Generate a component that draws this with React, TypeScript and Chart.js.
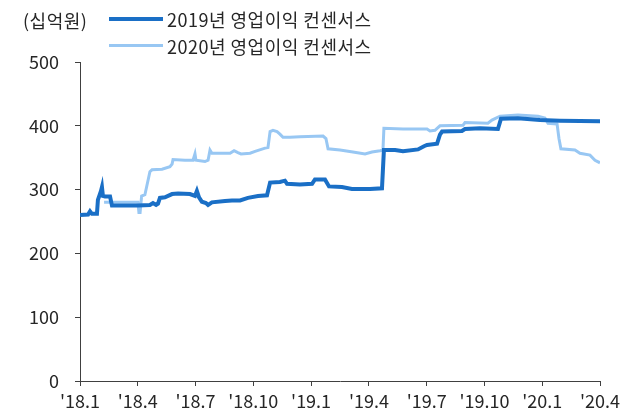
import React, { useEffect, useRef } from "react";
import { Chart, registerables } from "chart.js";

Chart.register(...registerables);

const FONT = "'Noto Sans CJK KR', 'Noto Sans', sans-serif";
const TEXT_COLOR = "#262626";
const AXIS_COLOR = "#404040";
const DARK = "#1A6FC6";
const LIGHT = "#98C7F3";

const unitLabel = "(십억원)";
const seriesNames = ["2019년 영업이익 컨센서스", "2020년 영업이익 컨센서스"];
const xTickLabels = ["'18.1", "'18.4", "'18.7", "'18.10", "'19.1", "'19.4", "'19.7", "'19.10", "'20.1", "'20.4"];

// x = months since Jan 2018
const months2019 = [
  0.0, 0.42, 0.52, 0.62, 0.88, 0.93, 1.09, 1.14, 1.19, 1.3, 1.56, 1.66, 3.01, 3.63, 3.79, 3.95, 4.05, 4.15,
  4.41, 4.78, 5.09, 5.71, 5.97, 6.07, 6.18, 6.33, 6.54, 6.65, 6.85, 7.53, 7.89, 8.31, 8.72, 9.24, 9.71, 9.87,
  10.38, 10.64, 10.75, 11.42, 12.05, 12.2, 12.72, 12.93, 13.6, 14.12, 15.06, 15.68, 15.78, 16.36, 16.77,
  17.55, 17.86, 18.02, 18.54, 18.69, 18.8, 19.83, 19.99, 20.77, 21.7, 21.86, 22.74, 23.88, 24.92, 27.1,
];
const values2019 = [
  260, 261, 266, 262, 262, 284, 298, 304, 290, 289, 289, 275, 275, 276, 279, 276, 278, 287,
  288, 293, 294, 293, 290, 298, 288, 281, 279, 276, 280, 282, 283, 283, 287, 290, 291, 311,
  312, 314, 309, 308, 309, 316, 316, 305, 304, 301, 301, 302, 362, 362, 360,
  363, 368, 370, 372, 386, 391, 392, 395, 396, 395, 411, 412, 409, 408, 407,
];

const months2020 = [
  1.25, 3.01, 3.06, 3.12, 3.2, 3.37, 3.63, 3.74, 4.26, 4.67, 4.78, 4.83, 5.45, 5.87, 5.97, 6.02, 6.49, 6.65,
  6.75, 6.85, 7.79, 8.0, 8.2, 8.36, 8.83, 9.09, 9.61, 9.76, 9.87, 10.02, 10.23, 10.38, 10.54, 10.9, 11.42,
  12.62, 12.77, 12.88, 13.5, 14.17, 14.8, 15.16, 15.58, 15.73, 15.78, 16.77, 18.02, 18.17, 18.43, 18.69,
  19.89, 19.99, 21.18, 21.39, 21.81, 22.74, 23.78, 24.14, 24.3, 24.77, 24.87, 24.97, 25.7, 25.96, 26.48,
  26.74, 27.0,
];
const values2020 = [
  280, 280, 264, 264, 290, 292, 328, 331, 332, 336, 340, 347, 346, 346, 356, 346, 344, 346,
  362, 357, 357, 361, 358, 356, 357, 360, 365, 366, 391, 393, 391, 387, 382, 382, 383,
  384, 380, 364, 362, 359, 356, 359, 361, 362, 396, 395, 395, 392, 393, 400,
  401, 405, 404, 409, 415, 417, 415, 412, 404, 403, 380, 364, 362, 357, 354,
  346, 342,
];

const toPoints = (xs: number[], ys: number[]) => xs.map((x, i) => ({ x, y: ys[i] }));

export default function App() {
  const canvasRef = useRef<HTMLCanvasElement | null>(null);

  useEffect(() => {
    document.body.style.margin = "0";
    const canvas = canvasRef.current;
    if (!canvas) return;
    const chart = new Chart(canvas, {
      type: "line",
      data: {
        datasets: [
          {
            label: seriesNames[0],
            data: toPoints(months2019, values2019),
            borderColor: DARK,
            backgroundColor: DARK,
            borderWidth: 4,
            pointRadius: 0,
            tension: 0,
            order: 0,
          },
          {
            label: seriesNames[1],
            data: toPoints(months2020, values2020),
            borderColor: LIGHT,
            backgroundColor: LIGHT,
            borderWidth: 3,
            pointRadius: 0,
            tension: 0,
            order: 1,
          },
        ],
      },
      options: {
        responsive: false,
        animation: false,
        layout: { padding: { top: 62, right: 25, left: 0, bottom: 0 } },
        plugins: {
          legend: { display: false },
          title: { display: false },
          tooltip: { enabled: false },
        },
        scales: {
          x: {
            type: "linear",
            min: 0,
            max: 27,
            afterFit: (scale: any) => {
              scale.paddingRight = 0;
              scale.height = 28;
            },
            ticks: {
              stepSize: 3,
              autoSkip: false,
              maxRotation: 0,
              padding: 4,
              color: TEXT_COLOR,
              font: { family: FONT, size: 18 },
              callback: (value: any) => {
                const idx = Math.round(Number(value) / 3);
                return xTickLabels[idx] ?? "";
              },
            },
            grid: { display: true, drawOnChartArea: false, drawTicks: true, tickLength: 5, color: AXIS_COLOR },
            border: { display: true, color: AXIS_COLOR, width: 1 },
          },
          y: {
            min: 0,
            max: 500,
            afterFit: (scale: any) => {
              scale.width = 80;
            },
            ticks: {
              stepSize: 100,
              padding: 16,
              color: TEXT_COLOR,
              font: { family: FONT, size: 18 },
            },
            grid: { display: true, drawOnChartArea: false, drawTicks: true, tickLength: 5, color: AXIS_COLOR },
            border: { display: true, color: AXIS_COLOR, width: 1 },
          },
        },
      },
    });
    return () => chart.destroy();
  }, []);

  const textStyle: React.CSSProperties = {
    position: "absolute",
    fontFamily: FONT,
    fontSize: 18,
    letterSpacing: "0.5px",
    color: TEXT_COLOR,
    lineHeight: "22px",
    whiteSpace: "nowrap",
  };

  return (
    <div style={{ position: "relative", width: 625, height: 409, overflow: "hidden", background: "#fff" }}>
      <canvas ref={canvasRef} width={625} height={409} style={{ display: "block" }} />
      <div style={{ ...textStyle, left: 23, top: 9 }}>{unitLabel}</div>
      <div style={{ position: "absolute", left: 109, top: 17, width: 54, height: 4, background: DARK }} />
      <div style={{ ...textStyle, left: 167, top: 8 }}>{seriesNames[0]}</div>
      <div style={{ position: "absolute", left: 109, top: 44, width: 54, height: 3, background: LIGHT }} />
      <div style={{ ...textStyle, left: 167, top: 35 }}>{seriesNames[1]}</div>
    </div>
  );
}
